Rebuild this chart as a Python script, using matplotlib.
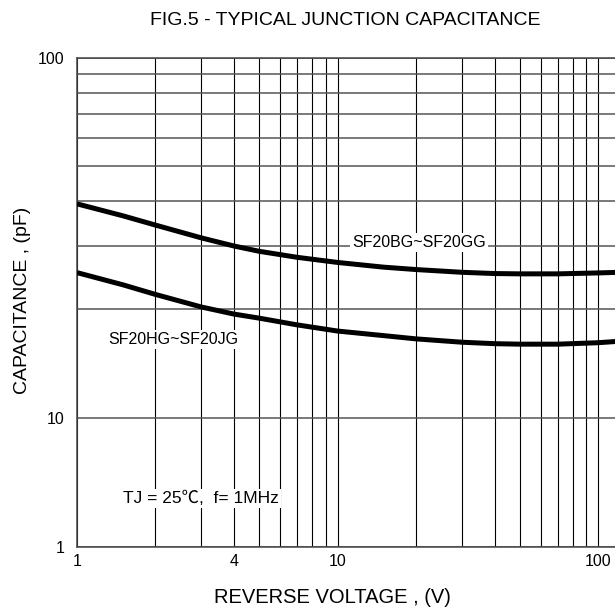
import numpy as np
import matplotlib.pyplot as plt
from matplotlib.ticker import FixedLocator, NullFormatter

plt.rcParams['font.family'] = ['Liberation Sans', 'DejaVu Sans']

# readings: reverse voltage (V) and junction capacitance (pF)
volts = [1, 1.5, 2, 3, 4, 5, 7, 10, 15, 20, 30, 40, 50, 70, 100, 120]
cap_bg_gg = [39.3, 36.4, 34.3, 31.6, 30.0, 29.0, 27.9, 27.0, 26.2, 25.8,
             25.35, 25.15, 25.1, 25.1, 25.25, 25.35]
cap_hg_jg = [25.3, 23.4, 22.0, 20.3, 19.4, 18.9, 18.1, 17.4, 16.9, 16.55,
             16.2, 16.05, 16.0, 16.0, 16.15, 16.3]

x_ticks = [1, 4, 10, 100]
x_minor = [2, 3, 5, 6, 7, 8, 9, 20, 30, 40, 50, 60, 70, 80, 90]
y_ticks = [1, 10, 100]
y_minor = [20, 30, 40, 50, 60, 70, 80, 90]

# the 1..10 pF decade is drawn squeezed on the original sheet
LOW_DECADE = 0.36


def cap_forward(c):
    lc = np.log10(np.clip(np.asarray(c, dtype=float), 1e-3, None))
    return np.where(lc >= 1, lc, 1 + (lc - 1) * LOW_DECADE)


def cap_inverse(t):
    t = np.asarray(t, dtype=float)
    return np.where(t >= 1, 10 ** t, 10 ** (1 + (t - 1) / LOW_DECADE))


fig = plt.figure(figsize=(6.15, 6.10), dpi=100)
# right side of the grid runs off the sheet, as in the original
ax = fig.add_axes([0.1252, 0.1033, 0.8813, 0.8016])

ax.set_xscale('log')
ax.set_yscale('function', functions=(cap_forward, cap_inverse))
ax.set_xlim(1, 120)
ax.set_ylim(1, 100)

ax.plot(volts, cap_bg_gg, color='black', lw=3.6, solid_capstyle='butt', zorder=3)
ax.plot(volts, cap_hg_jg, color='black', lw=3.6, solid_capstyle='butt', zorder=3)

ax.xaxis.set_major_locator(FixedLocator(x_ticks))
ax.xaxis.set_minor_locator(FixedLocator(x_minor))
ax.xaxis.set_minor_formatter(NullFormatter())
ax.set_xticklabels([str(v) for v in x_ticks])
ax.yaxis.set_major_locator(FixedLocator(y_ticks))
ax.yaxis.set_minor_locator(FixedLocator(y_minor))
ax.yaxis.set_minor_formatter(NullFormatter())
ax.set_yticklabels([str(v) for v in y_ticks])

ax.tick_params(which='both', length=0, labelsize=11.5)
ax.tick_params(axis='y', pad=9)
ax.tick_params(axis='x', pad=5)

ax.grid(axis='x', which='both', color='black', lw=0.8)
ax.grid(axis='y', which='both', color='#555555', lw=1.1)
ax.set_axisbelow(True)

for side in ['left', 'bottom', 'top']:
    ax.spines[side].set_color('#444444')
    ax.spines[side].set_linewidth(1.1)

box = dict(facecolor='white', edgecolor='none', pad=1.5)
ax.text(20.5, 30.6, 'SF20BG~SF20GG', fontsize=11.5, ha='center', va='center', bbox=box, zorder=4)
ax.text(2.35, 16.5, 'SF20HG~SF20JG', fontsize=11.5, ha='center', va='center', bbox=box, zorder=4)
ax.text(3.0, 2.36, 'TJ = 25\u2103,  f= 1MHz', fontsize=12.5, ha='center', va='center',
        bbox=box, zorder=4, family=['Liberation Sans', 'Noto Sans CJK SC'])

fig.text(0.561, 0.967, 'FIG.5 - TYPICAL JUNCTION CAPACITANCE', fontsize=14,
         ha='center', va='center')
fig.text(0.540, 0.021, 'REVERSE VOLTAGE , (V)', fontsize=14.5, ha='center', va='center')
fig.text(0.036, 0.508, 'CAPACITANCE , (pF)', fontsize=14, ha='center', va='center',
         rotation=90)

fig.savefig('out.png', dpi=100)
